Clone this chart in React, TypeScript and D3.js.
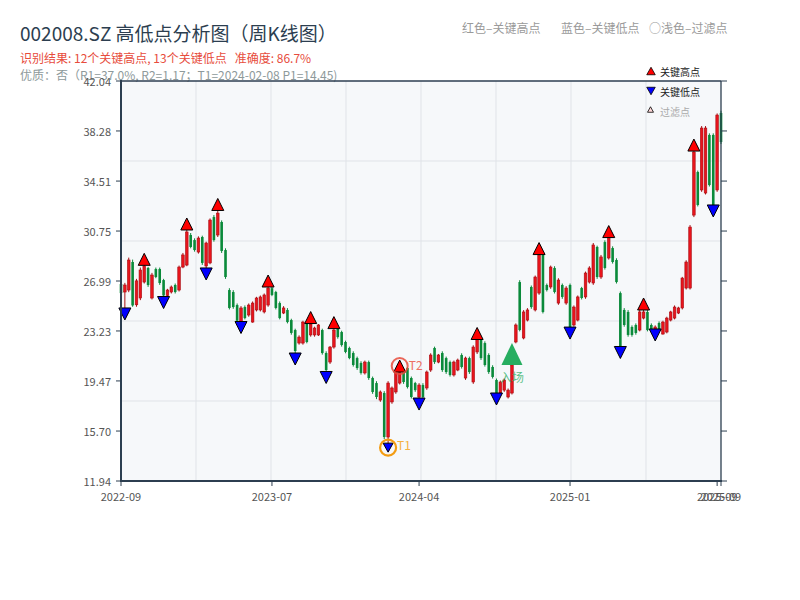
import React from 'react';
import * as d3 from 'd3';

// Weekly candles (2022-09 .. 2025-09)
const openPrices = [
  26.76, 26.16, 26.31, 28.42, 25.2, 25.71, 26.91, 27.97, 25.71, 27.89,
  27.89, 27.06, 25.9, 26.16, 26.69, 26.31, 28.04, 28.19, 30.45, 30.07,
  29.17, 30.3, 28.12, 28.35, 31.8, 30.45, 31.43, 29.32, 26.31, 26.16,
  25.18, 23.9, 25.03, 24.43, 23.9, 24.81, 24.81, 24.66, 25.18, 26.45,
  26.16, 25.33, 24.58, 24.81, 24.05, 23.3, 22.32, 22.32, 23.9, 22.93,
  22.93, 22.93, 23.3, 21.57, 20.89, 22.02, 23.4, 23.15, 22.4, 21.95,
  21.57, 21.19, 20.82, 20.07, 20.89, 19.69, 19.31, 18.03, 18.56, 15.25,
  17.89, 18.64, 19.31, 20.29, 20.44, 19.69, 19.31, 18.26, 19.16, 18.94,
  20.29, 21.95, 20.89, 21.57, 21.19, 20.89, 19.92, 20.29, 21.42, 19.69,
  21.19, 19.39, 21.65, 22.55, 22.32, 21.42, 20.52, 19.54, 18.56, 18.78,
  18.26, 18.56, 22.4, 26.91, 22.7, 24.05, 26.54, 24.81, 26.08, 28.95,
  26.69, 26.54, 27.97, 25.33, 26.69, 25.33, 26.69, 23.68, 24.05, 26.46,
  25.79, 26.91, 26.84, 29.55, 27.29, 29.92, 28.72, 29.47, 28.57, 26.08,
  24.81, 24.66, 23.53, 23.68, 23.3, 24.2, 24.66, 23.68, 22.98, 23.83,
  23.0, 23.15, 24.05, 24.2, 24.58, 24.96, 26.46, 26.46, 31.95, 35.19,
  33.84, 33.61, 37.98, 37.98, 33.84, 39.63,
];
const closePrices = [
  26.08, 26.69, 28.57, 25.15, 27.0, 27.82, 28.12, 26.69, 27.44, 27.29,
  26.84, 25.9, 26.31, 26.54, 26.16, 28.04, 28.95, 30.68, 29.55, 29.32,
  30.22, 28.35, 29.85, 31.58, 30.07, 32.1, 29.25, 27.29, 24.96, 25.03,
  24.0, 24.96, 24.2, 25.18, 25.33, 25.71, 25.79, 25.94, 26.46, 25.94,
  24.96, 24.2, 24.96, 23.9, 23.08, 21.72, 22.77, 23.9, 22.4, 23.75,
  23.45, 23.68, 21.57, 20.29, 22.02, 23.3, 22.77, 22.17, 21.65, 21.19,
  20.67, 20.44, 20.07, 20.89, 19.69, 18.64, 18.26, 18.64, 15.25, 19.31,
  18.94, 20.14, 20.44, 19.39, 19.01, 18.26, 18.78, 19.16, 18.26, 20.14,
  21.42, 20.89, 21.42, 20.29, 20.14, 19.92, 20.89, 21.04, 20.52, 21.19,
  20.14, 22.02, 22.77, 21.19, 20.67, 20.14, 19.77, 18.56, 19.39, 19.54,
  18.78, 20.67, 23.68, 23.3, 24.66, 24.81, 25.03, 27.29, 28.95, 24.66,
  26.31, 28.04, 26.16, 27.06, 25.79, 26.46, 23.3, 25.03, 25.79, 25.71,
  27.59, 27.97, 29.7, 27.29, 28.8, 27.97, 30.3, 28.42, 26.91, 22.02,
  23.68, 22.93, 22.93, 23.08, 24.66, 24.66, 23.3, 23.3, 23.53, 23.3,
  23.9, 24.2, 24.66, 25.03, 24.96, 27.21, 28.42, 31.05, 36.7, 32.71,
  38.5, 38.5, 34.21, 32.71, 39.48, 37.45,
];
const highPrices = [
  26.9, 26.85, 28.75, 28.6, 27.15, 28.0, 28.62, 28.05, 27.6, 28.0,
  28.0, 27.15, 26.4, 26.65, 26.8, 28.15, 29.1, 31.28, 30.6, 30.2,
  30.35, 30.4, 29.95, 31.7, 31.95, 32.75, 31.55, 29.45, 26.45, 26.3,
  25.3, 25.1, 25.15, 25.3, 25.45, 25.8, 25.9, 26.05, 26.99, 26.6,
  26.25, 25.45, 25.1, 24.95, 24.15, 23.4, 22.9, 24.0, 24.0, 24.24,
  23.55, 23.75, 23.4, 21.7, 22.1, 23.86, 23.5, 23.25, 22.5, 22.05,
  21.7, 21.3, 20.95, 21.0, 21.0, 19.8, 19.45, 18.75, 18.7, 19.45,
  19.05, 20.25, 20.59, 20.4, 20.5, 19.8, 19.4, 19.3, 19.3, 20.25,
  21.55, 22.05, 21.5, 21.7, 21.3, 21.0, 21.0, 21.15, 21.55, 21.3,
  21.3, 22.15, 23.04, 22.7, 22.45, 21.55, 20.65, 19.65, 19.5, 19.65,
  18.9, 20.8, 23.8, 27.05, 24.8, 24.95, 26.65, 27.4, 29.43, 29.1,
  26.8, 28.15, 28.1, 27.2, 26.8, 26.6, 26.8, 25.15, 25.9, 26.55,
  27.7, 28.1, 29.85, 29.65, 28.95, 30.05, 30.71, 29.6, 28.7, 26.2,
  24.95, 24.8, 23.65, 23.8, 24.8, 25.26, 24.8, 23.8, 23.65, 23.95,
  24.0, 24.3, 24.75, 25.15, 25.05, 27.3, 28.55, 31.2, 37.22, 35.3,
  38.65, 38.65, 38.1, 38.1, 39.6, 39.8,
];
const lowPrices = [
  25.95, 24.51, 26.15, 25.05, 25.05, 25.55, 26.8, 26.55, 25.6, 27.2,
  26.7, 25.37, 25.85, 26.05, 26.05, 26.2, 27.95, 28.1, 29.45, 29.2,
  29.05, 28.2, 27.52, 28.25, 29.95, 30.3, 29.1, 27.15, 24.85, 24.9,
  23.9, 23.49, 24.1, 24.3, 23.85, 24.7, 24.7, 24.55, 25.05, 25.85,
  24.85, 24.1, 24.5, 23.8, 22.95, 21.12, 22.2, 22.2, 22.3, 22.8,
  22.8, 22.85, 21.45, 19.73, 20.75, 21.9, 22.65, 22.05, 21.55, 21.1,
  20.55, 20.3, 19.95, 19.95, 19.55, 18.5, 18.1, 17.9, 15.1, 14.45,
  17.75, 18.5, 19.2, 19.25, 18.9, 18.15, 18.65, 17.73, 18.1, 18.8,
  20.15, 20.75, 20.8, 20.15, 20.0, 19.8, 19.8, 20.2, 20.4, 19.55,
  20.0, 19.25, 21.5, 21.05, 20.55, 20.0, 19.65, 18.11, 18.45, 18.65,
  18.15, 18.45, 22.3, 23.2, 22.6, 23.95, 24.9, 24.7, 25.95, 24.55,
  26.2, 26.4, 26.05, 25.2, 25.65, 25.2, 23.07, 23.55, 23.95, 25.6,
  25.65, 26.8, 26.7, 27.15, 27.15, 27.85, 28.6, 28.3, 26.8, 21.61,
  23.55, 22.8, 22.8, 22.95, 23.2, 24.1, 23.2, 23.2, 22.93, 23.2,
  22.95, 23.05, 23.95, 24.1, 24.5, 24.85, 26.35, 26.35, 31.8, 32.6,
  33.7, 33.5, 34.1, 32.26, 33.7, 37.3,
];

const keyHighIdx = [6, 17, 25, 38, 49, 55, 72, 92, 108, 126, 135, 148];
const keyLowIdx = [1, 11, 22, 31, 45, 53, 69, 77, 97, 116, 129, 138, 153];
const t1Idx = 69;
const t2Idx = 72;
const entryIdx = 101;
const entryPrice = 21.5;

const yTickValues = [11.94, 15.7, 19.47, 23.23, 26.99, 30.75, 34.51, 38.28, 42.04];
const xTickIdx = [0, 39, 77, 116, 154, 155];
const xTickLabels = ['2022-09', '2023-07', '2024-04', '2025-01', '2025-09', '2025-09'];

const FONT = "'Noto Sans CJK SC', 'Noto Sans', sans-serif";

function tri(cx: number, cy: number, w: number, h: number, up: boolean) {
  return up
    ? `M${cx},${cy - h / 2}L${cx + w / 2},${cy + h / 2}L${cx - w / 2},${cy + h / 2}Z`
    : `M${cx},${cy + h / 2}L${cx + w / 2},${cy - h / 2}L${cx - w / 2},${cy - h / 2}Z`;
}

export default function App() {
  const N = openPrices.length;
  const left = 121, right = 721, top = 81, bottom = 481;
  const x = d3.scaleLinear().domain([0, N - 1]).range([left, right]);
  const y = d3.scaleLinear().domain([yTickValues[0], yTickValues[yTickValues.length - 1]]).range([bottom, top]);
  const [y0, y1] = y.domain();
  const hGrid = d3.range(1, 5).map((k) => y0 + ((y1 - y0) * k) / 5);
  const vGrid = d3.range(1, 8).map((k) => ((N - 1) * k) / 8);

  const RED = '#e8141c';
  const RED_EDGE = '#a80d12';
  const GREEN = '#0a8a3a';
  const bodyW = 2.6;

  return (
    <svg width={800} height={600} style={{ position: 'absolute', left: 0, top: 0, background: '#fff' }} fontFamily={FONT}>
      {/* titles */}
      <text x={20} y={41} fontSize={19} fill="#2c3e50">002008.SZ 高低点分析图（周K线图）</text>
      <text x={20} y={63} fontSize={12} fill="#e74c3c" style={{ whiteSpace: 'pre' }}>识别结果: 12个关键高点, 13个关键低点   准确度: 86.7%</text>
      <text x={462} y={33} fontSize={12} fill="#9a9a9a">红色–关键高点</text>
      <text x={561} y={33} fontSize={12} fill="#9a9a9a">蓝色–关键低点</text>
      <text x={649} y={33} fontSize={12} fill="#9a9a9a">○浅色–过滤点</text>

      {/* plot background */}
      <rect x={left} y={top} width={right - left} height={bottom - top} fill="#f6f8fa" />
      {hGrid.map((v, i) => (
        <line key={'hg' + i} x1={left} x2={right} y1={y(v)} y2={y(v)} stroke="#e0e3e8" strokeWidth={1} />
      ))}
      {vGrid.map((v, i) => (
        <line key={'vg' + i} x1={x(v)} x2={x(v)} y1={top} y2={bottom} stroke="#e0e3e8" strokeWidth={1} />
      ))}

      {/* second subtitle line, partly overlapping the plot top as in the reference */}
      <text x={20} y={79.5} fontSize={12} fill="#8e9a9b">优质：否（R1=37.0%, R2=1.17；T1=2024-02-08 P1=14.45)</text>

      {/* candles */}
      {openPrices.map((o, i) => {
        const c = closePrices[i];
        const up = c >= o;
        const cx = x(i);
        const yt = y(Math.max(o, c));
        const yb = y(Math.min(o, c));
        return (
          <g key={'c' + i}>
            <line x1={cx} x2={cx} y1={y(highPrices[i])} y2={y(lowPrices[i])} stroke={up ? RED_EDGE : GREEN} strokeWidth={1} />
            <rect
              x={cx - bodyW / 2}
              y={yt}
              width={bodyW}
              height={Math.max(1, yb - yt)}
              fill={up ? RED : GREEN}
              stroke={up ? RED_EDGE : 'none'}
              strokeWidth={up ? 0.6 : 0}
            />
          </g>
        );
      })}

      {/* key markers */}
      {keyHighIdx.map((idx) => (
        <path key={'kh' + idx} d={tri(x(idx), y(highPrices[idx]), 12, 12, true)} fill="#ff0000" stroke="#000" strokeWidth={1} />
      ))}
      {keyLowIdx.map((idx) => (
        <path
          key={'kl' + idx}
          d={tri(x(idx), y(lowPrices[idx]), idx === t1Idx ? 10 : 12, idx === t1Idx ? 9 : 12, false)}
          fill="#0000ff"
          stroke="#000"
          strokeWidth={1}
        />
      ))}

      {/* T1 / T2 */}
      <circle cx={x(t1Idx)} cy={y(lowPrices[t1Idx])} r={8} fill="none" stroke="#f39c12" strokeWidth={2.2} />
      <text x={x(t1Idx) + 9} y={y(lowPrices[t1Idx]) + 2} fontSize={12} fill="#f5b041">T1</text>
      <circle cx={x(t2Idx)} cy={y(highPrices[t2Idx])} r={8} fill="none" stroke="#e74c3c" strokeOpacity={0.85} strokeWidth={2} />
      <text x={x(t2Idx) + 9} y={y(highPrices[t2Idx]) + 4} fontSize={12} fill="#ec7063">T2</text>

      {/* entry */}
      <path d={tri(x(entryIdx), y(entryPrice), 21, 22, true)} fill="#27ae60" />
      <text x={x(entryIdx)} y={y(entryPrice) + 28} fontSize={12} fill="#27ae60" fillOpacity={0.75} textAnchor="middle">入场</text>

      {/* frame & axes */}
      <line x1={left} x2={right} y1={top} y2={top} stroke="#2c3e50" strokeWidth={1.3} />
      <line x1={right} x2={right} y1={top} y2={bottom} stroke="#2c3e50" strokeWidth={1.3} />
      <line x1={left} x2={left} y1={top - 1} y2={bottom + 1} stroke="#2c3e50" strokeWidth={2} />
      <line x1={left - 1} x2={right + 1} y1={bottom} y2={bottom} stroke="#2c3e50" strokeWidth={2} />
      {yTickValues.map((v, i) => (
        <g key={'yt' + i}>
          <line x1={left - 5} x2={left} y1={y(v)} y2={y(v)} stroke="#2c3e50" strokeWidth={1} />
          <line x1={right} x2={right + 6} y1={y(v)} y2={y(v)} stroke="#2c3e50" strokeWidth={1} />
          <text x={111} y={y(v)} fontSize={11} fill="#555" textAnchor="end" dominantBaseline="central">
            {v.toFixed(2)}
          </text>
        </g>
      ))}
      {xTickIdx.map((idx, i) => (
        <g key={'xt' + i}>
          <line x1={x(idx)} x2={x(idx)} y1={bottom} y2={bottom + 5} stroke="#2c3e50" strokeWidth={1} />
          <text x={x(idx)} y={501} fontSize={11} fill="#555" textAnchor="middle">{xTickLabels[i]}</text>
        </g>
      ))}

      {/* legend */}
      <path d={tri(651, 71, 8.5, 7.5, true)} fill="#ff0000" stroke="#000" strokeWidth={0.8} />
      <text x={660} y={76} fontSize={10} fill="#222">关键高点</text>
      <path d={tri(651, 91, 8.5, 7.5, false)} fill="#0000ff" stroke="#000" strokeWidth={0.8} />
      <text x={660} y={96} fontSize={10} fill="#222">关键低点</text>
      <path d={tri(650.5, 109.5, 6, 5.5, true)} fill="#ffd8d8" stroke="#000" strokeWidth={0.8} />
      <text x={660} y={116} fontSize={10} fill="#aaa">过滤点</text>
    </svg>
  );
}
